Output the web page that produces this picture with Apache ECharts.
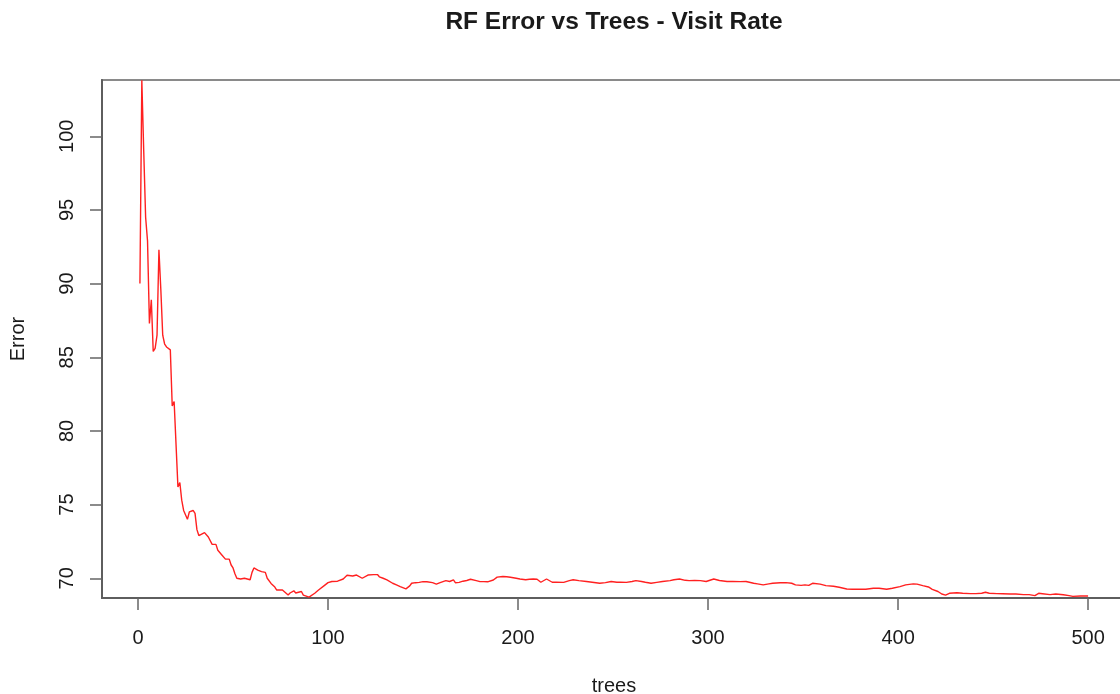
<!DOCTYPE html>
<html>
<head>
<meta charset="utf-8">
<title>RF Error vs Trees - Visit Rate</title>
<script src="https://cdn.jsdelivr.net/npm/echarts@6/dist/echarts.min.js"></script>
<style>
  html, body { margin: 0; padding: 0; background: #ffffff; }
  #chart { width: 1120px; height: 694px; }
</style>
</head>
<body>
<div id="chart"></div>
<script>
// Out-of-bag error of the random forest as trees are added
const trees = [
  1, 2, 3, 4, 5, 6, 7, 8, 9, 10, 11, 12, 13, 14, 15, 16, 17, 18, 19, 20,
  21, 22, 23, 24, 25, 26, 27, 28, 29, 30, 31, 32, 33, 35, 37, 39, 41, 42, 44, 45,
  46, 48, 49, 50, 51, 52, 53, 54, 56, 57, 59, 60, 61, 63, 65, 67, 68, 70, 72, 73,
  74, 76, 77, 79, 80, 82, 83, 84, 86, 87, 88, 90, 91, 93, 95, 96, 98, 100, 102, 103,
  105, 106, 108, 110, 111, 113, 115, 116, 118, 119, 121, 122, 124, 126, 127, 129, 131, 132, 134, 136,
  138, 139, 141, 142, 143, 144, 146, 148, 150, 152, 153, 155, 157, 159, 160, 162, 164, 166, 167, 169,
  171, 173, 175, 176, 178, 180, 182, 184, 185, 187, 189, 190, 192, 194, 196, 197, 199, 201, 204, 206,
  208, 210, 212, 215, 218, 220, 224, 227, 229, 232, 236, 239, 243, 246, 247, 249, 252, 254, 257, 260,
  262, 265, 267, 270, 273, 276, 280, 282, 285, 288, 290, 293, 296, 299, 303, 306, 310, 313, 317, 320,
  324, 326, 329, 332, 334, 338, 341, 344, 346, 349, 351, 353, 355, 359, 362, 366, 369, 373, 376, 380,
  383, 387, 390, 394, 397, 401, 404, 408, 410, 413, 416, 418, 421, 423, 425, 427, 431, 434, 438, 441,
  444, 446, 448, 452, 455, 459, 462, 466, 469, 472, 474, 476, 480, 483, 487, 490, 492, 496, 499, 500
];
const errors = [
  90.0, 103.8, 99.0, 94.5, 92.9, 87.3, 88.9, 85.4, 85.6, 86.5, 92.3, 89.6, 86.5, 85.9, 85.7, 85.6, 85.5, 81.7, 82.0, 81.9,
  76.2, 76.5, 75.3, 74.6, 74.6, 74.0, 74.5, 74.6, 74.6, 74.4, 73.3, 72.9, 72.95, 73.1, 72.8, 72.3, 72.3, 71.9, 71.6, 71.7,
  71.3, 71.3, 70.9, 70.7, 70.3, 70.0, 70.1, 69.95, 70.0, 69.9, 69.9, 70.4, 70.7, 70.55, 70.45, 70.4, 70.0, 69.65, 69.4, 69.2,
  69.3, 69.2, 69.3, 68.86, 69.0, 69.15, 69.0, 68.95, 69.1, 68.86, 68.98, 68.72, 68.7, 68.98, 69.2, 69.3, 69.5, 69.7, 69.78, 69.9,
  69.8, 69.92, 69.95, 70.2, 70.15, 70.15, 70.22, 70.15, 70.0, 70.1, 70.22, 70.3, 70.25, 70.25, 70.1, 70.0, 69.89, 69.78, 69.66, 69.55,
  69.43, 69.33, 69.28, 69.3, 69.48, 69.66, 69.7, 69.72, 69.77, 69.76, 69.8, 69.7, 69.6, 69.7, 69.77, 69.84, 69.78, 69.89, 69.7, 69.72,
  69.8, 69.85, 69.93, 69.88, 69.84, 69.77, 69.77, 69.76, 69.77, 69.88, 70.08, 70.16, 70.12, 70.1, 70.07, 70.02, 70.0, 69.95, 69.9, 69.93,
  69.95, 69.93, 69.73, 69.95, 69.73, 69.73, 69.72, 69.84, 69.9, 69.84, 69.78, 69.73, 69.66, 69.7, 69.78, 69.78, 69.73, 69.74, 69.72, 69.78,
  69.84, 69.78, 69.73, 69.66, 69.72, 69.78, 69.84, 69.9, 69.95, 69.86, 69.84, 69.85, 69.84, 69.78, 69.95, 69.85, 69.78, 69.78, 69.77, 69.78,
  69.66, 69.62, 69.55, 69.62, 69.66, 69.7, 69.7, 69.66, 69.55, 69.52, 69.55, 69.52, 69.66, 69.6, 69.5, 69.46, 69.39, 69.27, 69.25, 69.25,
  69.25, 69.32, 69.32, 69.25, 69.32, 69.43, 69.55, 69.62, 69.6, 69.5, 69.41, 69.25, 69.1, 68.93, 68.86, 68.98, 69.02, 68.98, 68.96, 68.96,
  68.98, 69.05, 68.98, 68.96, 68.95, 68.93, 68.93, 68.89, 68.89, 68.82, 68.98, 68.95, 68.89, 68.93, 68.88, 68.82, 68.77, 68.8, 68.8, 68.8
];
const xTicks = [0, 100, 200, 300, 400, 500];
const yTicks = [70, 75, 80, 85, 90, 95, 100];

const chart = echarts.init(document.getElementById('chart'), null, { renderer: 'canvas' });
const FONT = '"Liberation Sans", Arial, Helvetica, sans-serif';
const TEXT = '#1a1a1a';
const frame = '#5e5e5e';

chart.setOption({
  animation: false,
  backgroundColor: '#ffffff',
  title: {
    text: 'RF Error vs Trees - Visit Rate',
    left: 609,
    top: 5,
    textAlign: 'center',
    textStyle: { fontFamily: FONT, fontWeight: 'bold', fontSize: 24.5, color: TEXT }
  },
  grid: {
    left: 102, top: 80, width: 1024, height: 518,
    outerBoundsMode: 'none',
    containLabel: false,
    show: true,
    borderColor: '#8a8a8a',
    borderWidth: 2,
    backgroundColor: 'transparent'
  },
  xAxis: {
    type: 'value',
    min: -18.96,
    max: 519.96,
    name: 'trees',
    nameLocation: 'middle',
    nameGap: 78,
    nameTextStyle: { fontFamily: FONT, fontSize: 20, color: TEXT },
    axisLine: { show: true, onZero: false, lineStyle: { color: frame, width: 2 } },
    axisTick: { show: true, customValues: xTicks, length: 12, lineStyle: { color: '#666', width: 1.5 } },
    axisLabel: { customValues: xTicks, margin: 30, fontFamily: FONT, fontSize: 20, color: TEXT },
    splitLine: { show: false }
  },
  yAxis: {
    type: 'value',
    min: 68.66,
    max: 103.82,
    name: 'Error',
    nameLocation: 'middle',
    nameRotate: 90,
    nameGap: 74,
    nameTextStyle: { fontFamily: FONT, fontSize: 20, color: TEXT },
    axisLine: { show: true, onZero: false, lineStyle: { color: frame, width: 2 } },
    axisTick: { show: true, customValues: yTicks, length: 12, lineStyle: { color: '#666', width: 1.5 } },
    axisLabel: { customValues: yTicks, rotate: 90, margin: 25, fontFamily: FONT, fontSize: 20, color: TEXT },
    splitLine: { show: false }
  },
  series: [{
    type: 'line',
    data: trees.map((t, i) => [t, errors[i]]),
    showSymbol: false,
    clip: true,
    lineStyle: { color: '#ff2020', width: 1.4 },
    emphasis: { disabled: true }
  }]
});
</script>
</body>
</html>
